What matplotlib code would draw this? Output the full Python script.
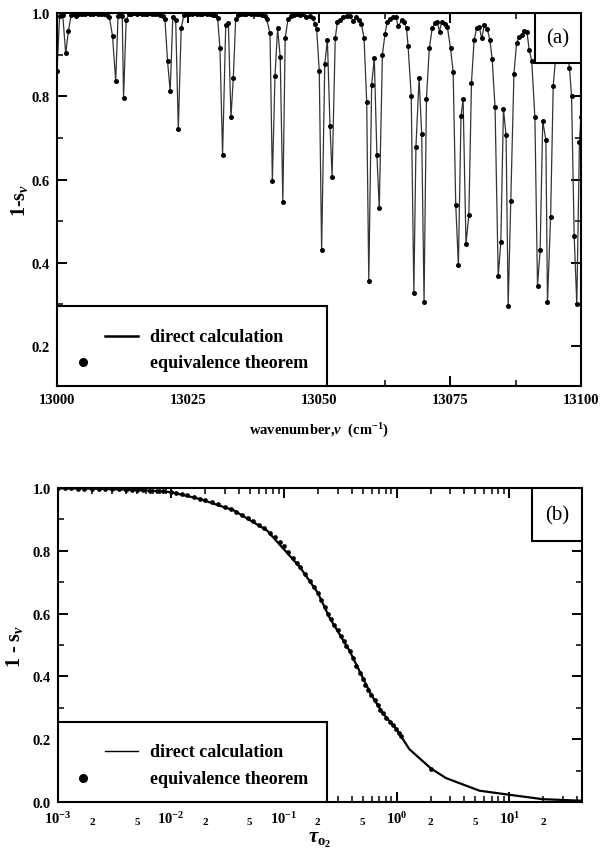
import numpy as np
import matplotlib
matplotlib.use('Agg')
import matplotlib.pyplot as plt
from matplotlib.ticker import MultipleLocator, LogLocator, FuncFormatter, FormatStrFormatter
from matplotlib.patches import Rectangle

# ---------------- data: panel (a) ----------------
wavenumber = [
    13000.0, 13000.5, 13001.1, 13001.66, 13002.17, 13002.7, 13003.2, 13003.7, 13004.2, 13004.8,
    13005.3, 13005.8, 13006.3, 13006.9, 13007.4, 13007.9, 13008.4, 13009.0, 13009.5, 13010.0,
    13010.6, 13011.2, 13011.65, 13012.05, 13012.45, 13012.7, 13013.2, 13013.7,
    13014.2, 13014.7, 13015.2, 13015.7, 13016.2, 13016.7, 13017.2, 13017.7, 13018.2, 13018.7, 13019.2, 13019.7, 13020.2,
    13020.6, 13021.1, 13021.6, 13022.1, 13022.65, 13023.15, 13023.7, 13024.2,
    13024.7, 13025.2, 13025.7, 13026.2, 13026.7, 13027.2, 13027.7, 13028.2, 13028.7, 13029.2, 13029.7, 13030.2,
    13030.65, 13031.1, 13031.6, 13032.2, 13032.7, 13033.2, 13033.65, 13034.1,
    13034.6, 13035.1, 13035.6, 13036.1, 13036.6, 13037.1, 13037.6, 13038.1, 13038.6, 13039.1, 13039.6,
    13040.0, 13040.65, 13041.1, 13041.6, 13042.1, 13042.6, 13043.1, 13043.55, 13044.1,
    13044.6, 13045.2, 13045.8, 13046.4, 13047.0, 13047.6, 13048.2, 13048.8, 13049.2, 13049.55,
    13050.05, 13050.5, 13051.1, 13051.6, 13052.1, 13052.5, 13053.1, 13053.5,
    13054.0, 13054.65, 13055.3, 13055.9, 13056.55, 13057.1, 13057.7, 13058.1, 13058.6,
    13059.1, 13059.5, 13060.05, 13060.55, 13061.05, 13061.5, 13062.1, 13062.6, 13063.0,
    13063.6, 13064.2, 13064.7, 13065.1, 13065.8, 13066.2, 13066.7, 13067.0,
    13067.6, 13068.1, 13068.5, 13069.1, 13069.6, 13070.05, 13070.5, 13071.05, 13071.6,
    13072.1, 13072.6, 13073.0, 13073.4, 13074.05, 13074.5,
    13075.1, 13075.6, 13076.1, 13076.6, 13077.1, 13077.5, 13078.05, 13078.6, 13079.1, 13079.6,
    13080.1, 13080.6, 13081.05, 13081.55, 13082.1, 13082.6, 13083.05,
    13083.6, 13084.2, 13084.7, 13085.2, 13085.7, 13086.1, 13086.6, 13087.2, 13087.7,
    13088.2, 13088.7, 13089.2, 13089.7, 13090.1, 13090.6,
    13091.2, 13091.7, 13092.2, 13092.7, 13093.3, 13093.6, 13094.2, 13094.7,
    13095.2, 13095.7, 13096.2, 13096.7, 13097.3,
    13097.8, 13098.2, 13098.7, 13099.2, 13099.7, 13100.0,
]
one_minus_s = [
    0.860, 0.993, 0.994, 0.903, 0.956, 0.996, 0.997, 0.993, 0.998, 0.997,
    0.998, 0.999, 0.997, 0.998, 0.999, 0.998, 0.997, 0.998, 0.996, 0.990,
    0.944, 0.836, 0.992, 0.995, 0.993, 0.796, 0.983, 0.997,
    0.998, 0.999, 0.998, 0.999, 0.998, 0.997, 0.998, 0.999, 0.998, 0.997, 0.998, 0.996, 0.993,
    0.985, 0.884, 0.812, 0.990, 0.984, 0.721, 0.964, 0.994,
    0.997, 0.998, 0.998, 0.999, 0.998, 0.997, 0.998, 0.999, 0.998, 0.997, 0.995, 0.994,
    0.988, 0.916, 0.659, 0.970, 0.976, 0.749, 0.845, 0.986,
    0.996, 0.998, 0.997, 0.998, 0.999, 0.997, 0.998, 0.997, 0.998, 0.996, 0.993,
    0.986, 0.951, 0.597, 0.849, 0.963, 0.894, 0.546, 0.940, 0.986,
    0.993, 0.995, 0.997, 0.996, 0.997, 0.990, 0.992, 0.988, 0.974, 0.962,
    0.861, 0.430, 0.877, 0.936, 0.729, 0.607, 0.939, 0.978,
    0.983, 0.991, 0.993, 0.993, 0.980, 0.990, 0.984, 0.974, 0.939,
    0.787, 0.357, 0.827, 0.892, 0.659, 0.531, 0.900, 0.950, 0.978,
    0.985, 0.990, 0.990, 0.968, 0.982, 0.978, 0.963, 0.921,
    0.800, 0.328, 0.679, 0.843, 0.709, 0.306, 0.793, 0.915, 0.963,
    0.976, 0.978, 0.955, 0.978, 0.974, 0.966,
    0.915, 0.859, 0.538, 0.394, 0.752, 0.793, 0.445, 0.515, 0.833, 0.935,
    0.964, 0.966, 0.939, 0.971, 0.962, 0.936, 0.889,
    0.773, 0.368, 0.449, 0.769, 0.707, 0.296, 0.549, 0.853, 0.927,
    0.942, 0.946, 0.957, 0.954, 0.912, 0.885,
    0.749, 0.345, 0.430, 0.740, 0.695, 0.305, 0.510, 0.825,
    0.900, 0.930, 0.940, 0.935, 0.910,
    0.869, 0.800, 0.464, 0.300, 0.690, 0.750,
]

# ---------------- data: panel (b) ----------------
tau_direct = [0.001, 0.002, 0.004, 0.007, 0.01, 0.018, 0.036, 0.071, 0.14, 0.2, 0.255,
              0.384, 0.597, 0.757, 0.99, 1.3, 2.03, 2.75, 5.43, 10.0, 19.7, 44.0]
s_direct = [0.999, 0.998, 0.995, 0.991, 0.987, 0.965, 0.929, 0.865, 0.747, 0.667, 0.587,
            0.481, 0.341, 0.282, 0.234, 0.168, 0.106, 0.076, 0.036, 0.023, 0.009, 0.004]

tau_equiv = [0.001, 0.00115, 0.0013, 0.0015, 0.0017, 0.002, 0.0023, 0.0026, 0.003, 0.0035,
             0.004, 0.0045, 0.005, 0.0057, 0.0065, 0.0075, 0.0085, 0.01, 0.011, 0.0125,
             0.014, 0.016, 0.018, 0.02, 0.023, 0.026, 0.03, 0.034, 0.038, 0.043,
             0.048, 0.054, 0.06, 0.067, 0.075, 0.083, 0.092, 0.1, 0.11, 0.12,
             0.13, 0.14, 0.155, 0.17, 0.185, 0.2, 0.215, 0.23, 0.245, 0.26,
             0.28, 0.3, 0.32, 0.34, 0.36, 0.384, 0.41, 0.44, 0.47, 0.5,
             0.53, 0.56, 0.597, 0.64, 0.68, 0.72, 0.757, 0.81, 0.87, 0.93,
             0.99, 1.05, 1.1, 2.03]
s_equiv = [0.999, 0.999, 0.999, 0.998, 0.998, 0.998, 0.997, 0.997, 0.996, 0.996,
           0.995, 0.995, 0.994, 0.993, 0.992, 0.991, 0.990, 0.987, 0.985, 0.981,
           0.978, 0.971, 0.965, 0.962, 0.955, 0.948, 0.940, 0.933, 0.925, 0.915,
           0.905, 0.894, 0.883, 0.872, 0.858, 0.845, 0.829, 0.815, 0.795, 0.778,
           0.762, 0.747, 0.726, 0.705, 0.686, 0.667, 0.644, 0.620, 0.600, 0.583,
           0.565, 0.548, 0.530, 0.512, 0.497, 0.481, 0.458, 0.433, 0.412, 0.392,
           0.373, 0.358, 0.341, 0.324, 0.308, 0.294, 0.282, 0.268, 0.255, 0.244,
           0.234, 0.220, 0.210, 0.106]

legend_labels = ["direct calculation", "equivalence theorem"]

# ---------------- style ----------------
plt.rcParams['font.family'] = ['Liberation Serif', 'DejaVu Serif']
plt.rcParams['font.weight'] = 'bold'
plt.rcParams['axes.labelweight'] = 'bold'
plt.rcParams['mathtext.fontset'] = 'custom'
plt.rcParams['mathtext.rm'] = 'Liberation Serif:bold'
plt.rcParams['mathtext.bf'] = 'Liberation Serif:bold'
plt.rcParams['mathtext.it'] = 'Liberation Serif:italic'
plt.rcParams['axes.linewidth'] = 1.5

W, H = 600, 854
fig = plt.figure(figsize=(W / 100, H / 100), dpi=100)

ax1 = fig.add_axes([57 / W, 1 - 387 / H, 524 / W, 373 / H])
ax2 = fig.add_axes([58 / W, 1 - 803 / H, 524 / W, 314 / H])


def style_ticks(ax):
    ax.tick_params(which='major', direction='in', length=7, width=1.4,
                   top=True, right=True, labelsize=10.5, pad=5)
    ax.tick_params(which='minor', direction='in', length=4, width=1.1,
                   top=True, right=True)


# ---------------- panel (a) ----------------
ax1.plot(wavenumber, one_minus_s, '-', color='#333333', lw=0.9, zorder=2)
ax1.plot(wavenumber, one_minus_s, 'o', color='black', ms=3.6, mew=0, zorder=3)
ax1.set_xlim(13000, 13100)
ax1.set_ylim(0.104, 1.0)
ax1.xaxis.set_major_locator(MultipleLocator(25))
ax1.xaxis.set_minor_locator(MultipleLocator(12.5))
ax1.yaxis.set_major_locator(MultipleLocator(0.2))
ax1.yaxis.set_minor_locator(MultipleLocator(0.1))
ax1.yaxis.set_major_formatter(FormatStrFormatter('%.1f'))
style_ticks(ax1)
ax1.set_xlabel(r'wavenumber,$\nu$  (cm$^{\mathbf{-1}}$)', fontsize=10.5)
ax1.xaxis.set_label_coords(0.5, -0.092)
ax1.set_ylabel(r'1-s$_{\nu}$', fontsize=14.5)
ax1.yaxis.set_label_coords(-0.052, 0.5)

# legend box (a)
ax1.add_patch(Rectangle((0, 0), 0.515, 0.2145, transform=ax1.transAxes,
                        facecolor='white', edgecolor='black', lw=1.5, zorder=5))
ax1.plot([0.0916, 0.1546], [0.134, 0.134], transform=ax1.transAxes,
         color='black', lw=1.8, zorder=6, clip_on=False)
ax1.plot([0.0496], [0.0643], 'o', transform=ax1.transAxes, color='black',
         ms=5.5, zorder=6, clip_on=False)
ax1.text(0.1775, 0.134, legend_labels[0], transform=ax1.transAxes, fontsize=13,
         va='center', ha='left', zorder=7)
ax1.text(0.1775, 0.0643, legend_labels[1], transform=ax1.transAxes, fontsize=13,
         va='center', ha='left', zorder=7)
# panel tag (a)
ax1.add_patch(Rectangle((0.912, 0.866), 0.088, 0.134, transform=ax1.transAxes,
                        facecolor='white', edgecolor='black', lw=1.5, zorder=5))
ax1.text(0.956, 0.933, '(a)', transform=ax1.transAxes, fontsize=15,
         fontweight='normal', ha='center', va='center', zorder=7)

# ---------------- panel (b) ----------------
ax2.set_xscale('log')
ax2.plot(tau_direct, s_direct, '-', color='black', lw=1.6, zorder=2)
ax2.plot(tau_equiv, s_equiv, 'o', color='black', ms=3.4, mew=0, zorder=3)
ax2.set_xlim(1e-3, 44)
ax2.set_ylim(0, 1.0)
ax2.xaxis.set_major_locator(LogLocator(base=10, numticks=12))
ax2.xaxis.set_minor_locator(LogLocator(base=10, subs=np.arange(2, 10), numticks=30))


def major_fmt(v, pos):
    return r'$\mathbf{10^{%d}}$' % int(round(np.log10(v)))


def minor_fmt(v, pos):
    m = v / 10 ** np.floor(np.log10(v) + 1e-9)
    m = int(round(m))
    return str(m) if m in (2, 5) else ''


ax2.xaxis.set_major_formatter(FuncFormatter(major_fmt))
ax2.xaxis.set_minor_formatter(FuncFormatter(minor_fmt))
ax2.yaxis.set_major_locator(MultipleLocator(0.2))
ax2.yaxis.set_minor_locator(MultipleLocator(0.1))
ax2.yaxis.set_major_formatter(FormatStrFormatter('%.1f'))
style_ticks(ax2)
ax2.tick_params(axis='x', which='major', pad=6)
ax2.tick_params(axis='x', which='minor', labelsize=8, pad=11)
ax2.set_xlabel(r'$\tau_{\mathrm{o}_2}$', fontsize=15)
ax2.xaxis.set_label_coords(0.5, -0.085)
ax2.set_ylabel(r'1 - s$_{\nu}$', fontsize=14.5)
ax2.yaxis.set_label_coords(-0.063, 0.5)

# legend box (b)
ax2.add_patch(Rectangle((0, 0), 0.513, 0.2548, transform=ax2.transAxes,
                        facecolor='white', edgecolor='black', lw=1.5, zorder=5))
ax2.plot([0.0897, 0.1527], [0.1624, 0.1624], transform=ax2.transAxes,
         color='black', lw=1.0, zorder=6, clip_on=False)
ax2.plot([0.0477], [0.0764], 'o', transform=ax2.transAxes, color='black',
         ms=5.5, zorder=6, clip_on=False)
ax2.text(0.1756, 0.1624, legend_labels[0], transform=ax2.transAxes, fontsize=13,
         va='center', ha='left', zorder=7)
ax2.text(0.1756, 0.0764, legend_labels[1], transform=ax2.transAxes, fontsize=13,
         va='center', ha='left', zorder=7)
# panel tag (b)
ax2.add_patch(Rectangle((0.9046, 0.8312), 0.0954, 0.1688, transform=ax2.transAxes,
                        facecolor='white', edgecolor='black', lw=1.5, zorder=5))
ax2.text(0.952, 0.9156, '(b)', transform=ax2.transAxes, fontsize=15,
         fontweight='normal', ha='center', va='center', zorder=7)

fig.savefig('out.png', dpi=100)
